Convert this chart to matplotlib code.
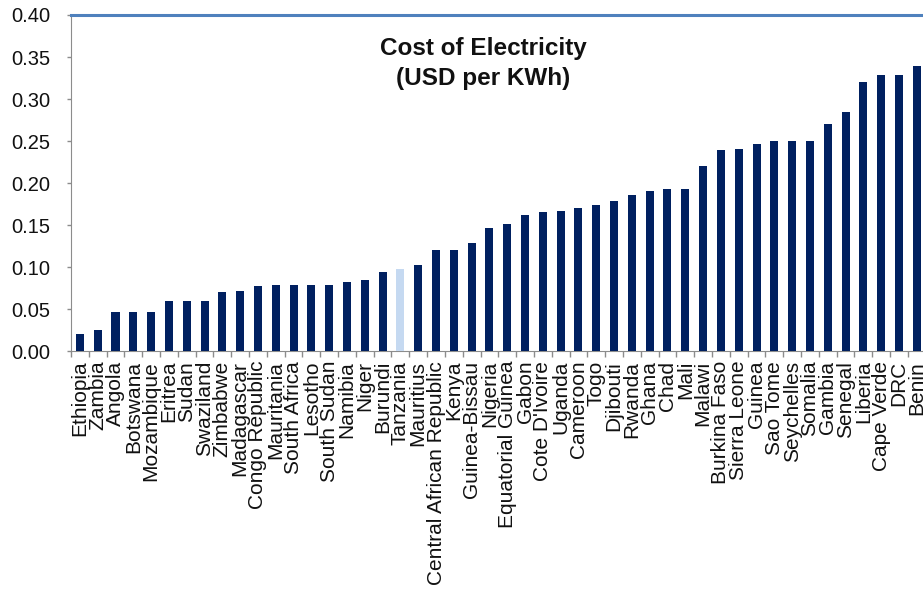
import matplotlib
matplotlib.use("Agg")
import matplotlib.pyplot as plt
import numpy as np

plt.rcParams['font.family'] = ['Liberation Sans', 'DejaVu Sans']

countries = [
    "Ethiopia", "Zambia", "Angola", "Botswana", "Mozambique", "Eritrea", "Sudan",
    "Swaziland", "Zimbabwe", "Madagascar", "Congo Republic", "Mauritania",
    "South Africa", "Lesotho", "South Sudan", "Namibia", "Niger", "Burundi",
    "Tanzania", "Mauritius", "Central African Republic", "Kenya", "Guinea-Bissau",
    "Nigeria", "Equatorial Guinea", "Gabon", "Cote D'Ivoire", "Uganda", "Cameroon",
    "Togo", "Djibouti", "Rwanda", "Ghana", "Chad", "Mali", "Malawi", "Burkina Faso",
    "Sierra Leone", "Guinea", "Sao Tome", "Seychelles", "Somalia", "Gambia",
    "Senegal", "Liberia", "Cape Verde", "DRC", "Benin",
]
cost_usd_kwh = [
    0.020, 0.025, 0.046, 0.046, 0.046, 0.060, 0.060,
    0.060, 0.070, 0.072, 0.077, 0.079,
    0.079, 0.079, 0.079, 0.082, 0.084, 0.094,
    0.098, 0.103, 0.120, 0.120, 0.129,
    0.146, 0.151, 0.162, 0.165, 0.167, 0.170,
    0.174, 0.179, 0.186, 0.191, 0.193, 0.193, 0.220, 0.239,
    0.241, 0.246, 0.250, 0.250, 0.250, 0.270,
    0.284, 0.320, 0.329, 0.329, 0.339,
]
highlight = "Tanzania"
yticks = [0.00, 0.05, 0.10, 0.15, 0.20, 0.25, 0.30, 0.35, 0.40]

navy = "#002060"
light = "#C5D9F1"
colors = [light if c == highlight else navy for c in countries]

fig = plt.figure(figsize=(9.23, 5.95), dpi=100)
ax = fig.add_axes([0.0769, 0.41, 0.926, 0.5648])

x = np.arange(len(countries))
ax.bar(x, cost_usd_kwh, width=0.45, color=colors, zorder=3)

ax.set_xlim(-0.5, len(countries) - 0.5)
ax.set_ylim(0, 0.40)
ax.set_yticks(yticks)
ax.set_yticklabels([f"{v:.2f}" for v in yticks])

ax.set_xticks(x)
ax.set_xticklabels(countries, rotation=90, fontsize=15, color="#111111")
ax.set_xticks(np.arange(len(countries) + 1) - 0.5, minor=True)
ax.tick_params(axis='x', which='major', length=0, pad=7)
ax.tick_params(axis='x', which='minor', length=4, width=1, color="#8c8c8c", direction='out')
ax.tick_params(axis='y', which='major', length=3, width=1, color="#8c8c8c",
               labelsize=14.5, pad=12, labelcolor="#111111")

ax.spines['right'].set_visible(False)
ax.spines['left'].set_color("#8c8c8c")
ax.spines['bottom'].set_color("#8c8c8c")
ax.spines['top'].set_color("#4F81BD")
ax.spines['top'].set_linewidth(2.2)

ax.text(0.482, 0.935, "Cost of Electricity\n(USD per KWh)", transform=ax.transAxes,
        ha='center', va='top', fontsize=17.5, fontweight='bold', color="#111111",
        linespacing=1.4)

fig.savefig("out.png", dpi=100)
